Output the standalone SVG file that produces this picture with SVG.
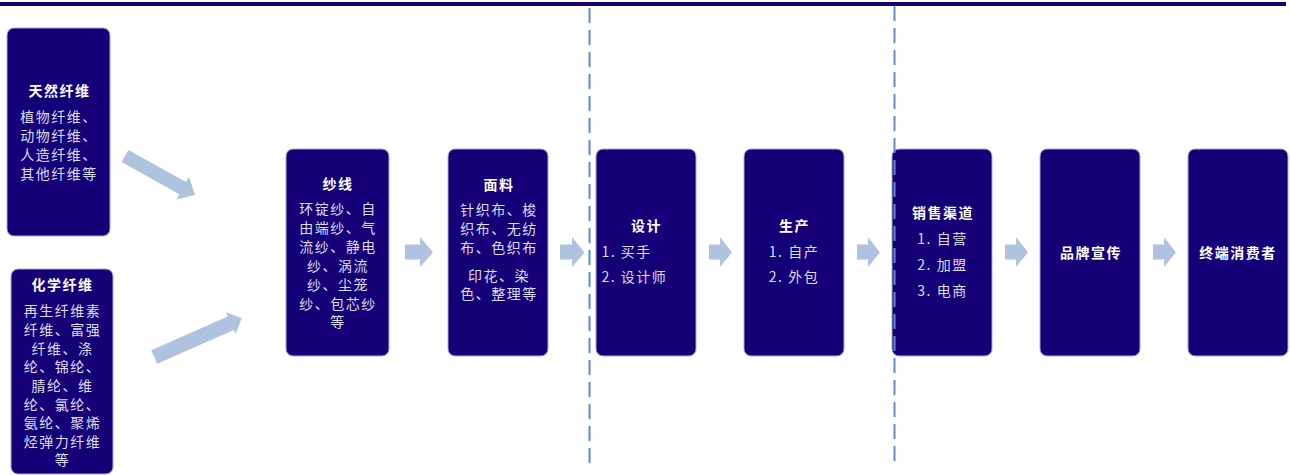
<svg xmlns="http://www.w3.org/2000/svg" width="1290" height="475" viewBox="0 0 1290 475">
<style>
.box{fill:#150078;stroke:#a8a8d8;stroke-width:1}
.t{font-family:"Noto Sans CJK SC","Noto Sans",sans-serif;font-size:14px;font-weight:bold;fill:#ffffff;text-anchor:middle;letter-spacing:1.5px}
.b{font-family:"Noto Sans CJK SC","Noto Sans",sans-serif;font-size:14px;fill:#dcdcef;text-anchor:middle;letter-spacing:1.5px}
.bl{font-family:"Noto Sans CJK SC","Noto Sans",sans-serif;font-size:14px;fill:#dcdcef;letter-spacing:1.5px}
.arr{fill:#b0c3de}
.dash{stroke:#5b8dcc;stroke-width:2;stroke-dasharray:15 7;fill:none}
</style>
<rect x="0" y="2" width="1286" height="4" fill="#150078"/>

<g id="node-natural">
<rect class="box" x="7" y="28" width="103" height="208" rx="7"/>
<text class="t" x="59.5" y="96">天然纤维</text>
<text class="b" x="59" y="122">植物纤维、</text>
<text class="b" x="59" y="141">动物纤维、</text>
<text class="b" x="59" y="160">人造纤维、</text>
<text class="b" x="59" y="179">其他纤维等</text>
</g>

<g id="node-chemical">
<rect class="box" x="11" y="269" width="102" height="205" rx="7"/>
<text class="t" x="62.5" y="289.5">化学纤维</text>
<text class="b" x="62.5" y="316">再生纤维素</text>
<text class="b" x="62.5" y="335">纤维、富强</text>
<text class="b" x="62.5" y="353.5">纤维、涤</text>
<text class="b" x="62.5" y="372">纶、锦纶、</text>
<text class="b" x="62.5" y="391">腈纶、维</text>
<text class="b" x="62.5" y="409.5">纶、氯纶、</text>
<text class="b" x="62.5" y="428">氨纶、聚烯</text>
<text class="b" x="62.5" y="446.5">烃弹力纤维</text>
<text class="b" x="62.5" y="465">等</text>
</g>

<g id="node-yarn">
<rect class="box" x="286" y="149" width="103" height="207" rx="7"/>
<text class="t" x="338" y="188.5">纱线</text>
<text class="b" x="338" y="214">环锭纱、自</text>
<text class="b" x="338" y="233">由端纱、气</text>
<text class="b" x="338" y="252">流纱、静电</text>
<text class="b" x="338" y="271">纱、涡流</text>
<text class="b" x="338" y="290">纱、尘笼</text>
<text class="b" x="338" y="309">纱、包芯纱</text>
<text class="b" x="338" y="327">等</text>
</g>

<g id="node-fabric">
<rect class="box" x="448" y="149" width="100" height="207" rx="7"/>
<text class="t" x="499" y="190">面料</text>
<text class="b" x="499" y="215">针织布、梭</text>
<text class="b" x="499" y="234">织布、无纺</text>
<text class="b" x="499" y="253">布、色织布</text>
<text class="b" x="499" y="281">印花、染</text>
<text class="b" x="499" y="299">色、整理等</text>
</g>

<g id="node-design">
<rect class="box" x="596" y="149" width="100" height="207" rx="7"/>
<text class="t" x="646.5" y="231">设计</text>
<text class="bl" x="601.5" y="257">1. 买手</text>
<text class="bl" x="601.5" y="282">2. 设计师</text>
</g>

<g id="node-production">
<rect class="box" x="744" y="149" width="100" height="207" rx="7"/>
<text class="t" x="794.5" y="231">生产</text>
<text class="b" x="794" y="257">1. 自产</text>
<text class="b" x="794" y="282">2. 外包</text>
</g>

<g id="node-sales">
<rect class="box" x="892" y="149" width="100" height="207" rx="7"/>
<text class="t" x="943" y="218">销售渠道</text>
<text class="b" x="942.5" y="244">1. 自营</text>
<text class="b" x="942.5" y="269.5">2. 加盟</text>
<text class="b" x="942.5" y="296">3. 电商</text>
</g>

<g id="node-brand">
<rect class="box" x="1040" y="149" width="100" height="207" rx="7"/>
<text class="t" x="1091" y="257.5">品牌宣传</text>
</g>

<g id="node-consumer">
<rect class="box" x="1188" y="149" width="100" height="207" rx="7"/>
<text class="t" x="1238" y="257.5">终端消费者</text>
</g>

<g id="connectors">
<polygon class="arr" points="128.4,149.9 186.1,182 189,176.7 195,195 176.4,199.5 179.3,194.2 121.6,162.1"/>
<polygon class="arr" points="151.2,350.2 227.7,316.4 225.9,312.2 241.7,318.3 235.5,334.2 233.7,330 157.2,363.8"/>
<polygon class="arr" points="405,244.5 420,244.5 420,237 433,252.5 420,267 420,259.5 405,259.5"/>
<polygon class="arr" points="560,244.5 572,244.5 572,237 584.5,252.5 572,267 572,259.5 560,259.5"/>
<polygon class="arr" points="709,244.5 720,244.5 720,237 732,252.5 720,267 720,259.5 709,259.5"/>
<polygon class="arr" points="857,244.5 868,244.5 868,237 880,252.5 868,267 868,259.5 857,259.5"/>
<polygon class="arr" points="1005,244.5 1016,244.5 1016,237 1028,252.5 1016,267 1016,259.5 1005,259.5"/>
<polygon class="arr" points="1153,244.5 1164,244.5 1164,237 1176,252.5 1164,267 1164,259.5 1153,259.5"/>
</g>

<g id="dividers">
<line class="dash" x1="589.5" y1="8" x2="589.5" y2="463"/>
<line class="dash" x1="894.5" y1="6" x2="894.5" y2="463"/>
</g>
</svg>
